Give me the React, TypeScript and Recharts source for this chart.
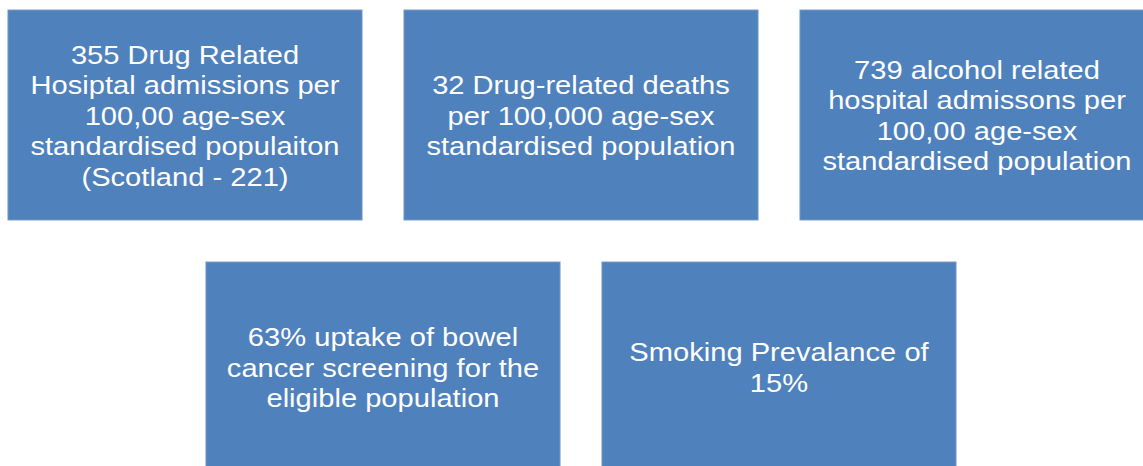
import { ScatterChart, Scatter, XAxis, YAxis } from 'recharts'

// grid slot of each tile: column (half steps on the lower row) and row
const tileCols = [0, 1, 2, 0.5, 1.5]
const tileRows = [0, 0, 0, 1, 1]
const tileLines = [
  ['355 Drug Related', 'Hosiptal admissions per', '100,00 age-sex', 'standardised populaiton', '(Scotland - 221)'],
  ['32 Drug-related deaths', 'per 100,000 age-sex', 'standardised population'],
  ['739 alcohol related', 'hospital admissons per', '100,00 age-sex', 'standardised population'],
  ['63% uptake of bowel', 'cancer screening for the', 'eligible population'],
  ['Smoking Prevalance of', '15%'],
]

const data = tileCols.map((col, i) => ({ col, row: tileRows[i], lines: tileLines[i] }))

const W = 1143
const H = 466
const margin = { top: 115, right: 166, bottom: 99, left: 185 }
const FILL = '#4f81bd'

// one column / row step in pixels (domains are [0,2] and [0,1])
const colStep = (W - margin.left - margin.right) / 2
const rowStep = H - margin.top - margin.bottom

function Tile(props: any) {
  const { cx, cy, payload } = props
  const w = colStep * 0.894
  const h = rowStep * 0.833
  const lines: string[] = payload.lines
  const lh = 30.5
  return (
    <g>
      <rect x={cx - w / 2} y={cy - h / 2} width={w} height={h} fill={FILL} stroke="#7096c8" strokeWidth={1} />
      {lines.map((t, i) => (
        <text
          key={i}
          transform={`translate(${cx}, ${cy + (i - (lines.length - 1) / 2) * lh + 9.5}) scale(1.12, 1)`}
          textAnchor="middle"
          fill="#ffffff"
          fontSize={26}
          fontFamily="'Liberation Sans', Arial, sans-serif"
        >
          {t}
        </text>
      ))}
    </g>
  )
}

export default function App() {
  return (
    <div style={{ position: 'absolute', left: 0, top: 0, width: W, height: H, background: '#fff', overflow: 'hidden' }}>
      <ScatterChart width={W} height={H} margin={margin}>
        <XAxis type="number" dataKey="col" domain={[0, 2]} hide />
        <YAxis type="number" dataKey="row" domain={[0, 1]} reversed hide />
        <Scatter data={data} shape={<Tile />} isAnimationActive={false} />
      </ScatterChart>
    </div>
  )
}
